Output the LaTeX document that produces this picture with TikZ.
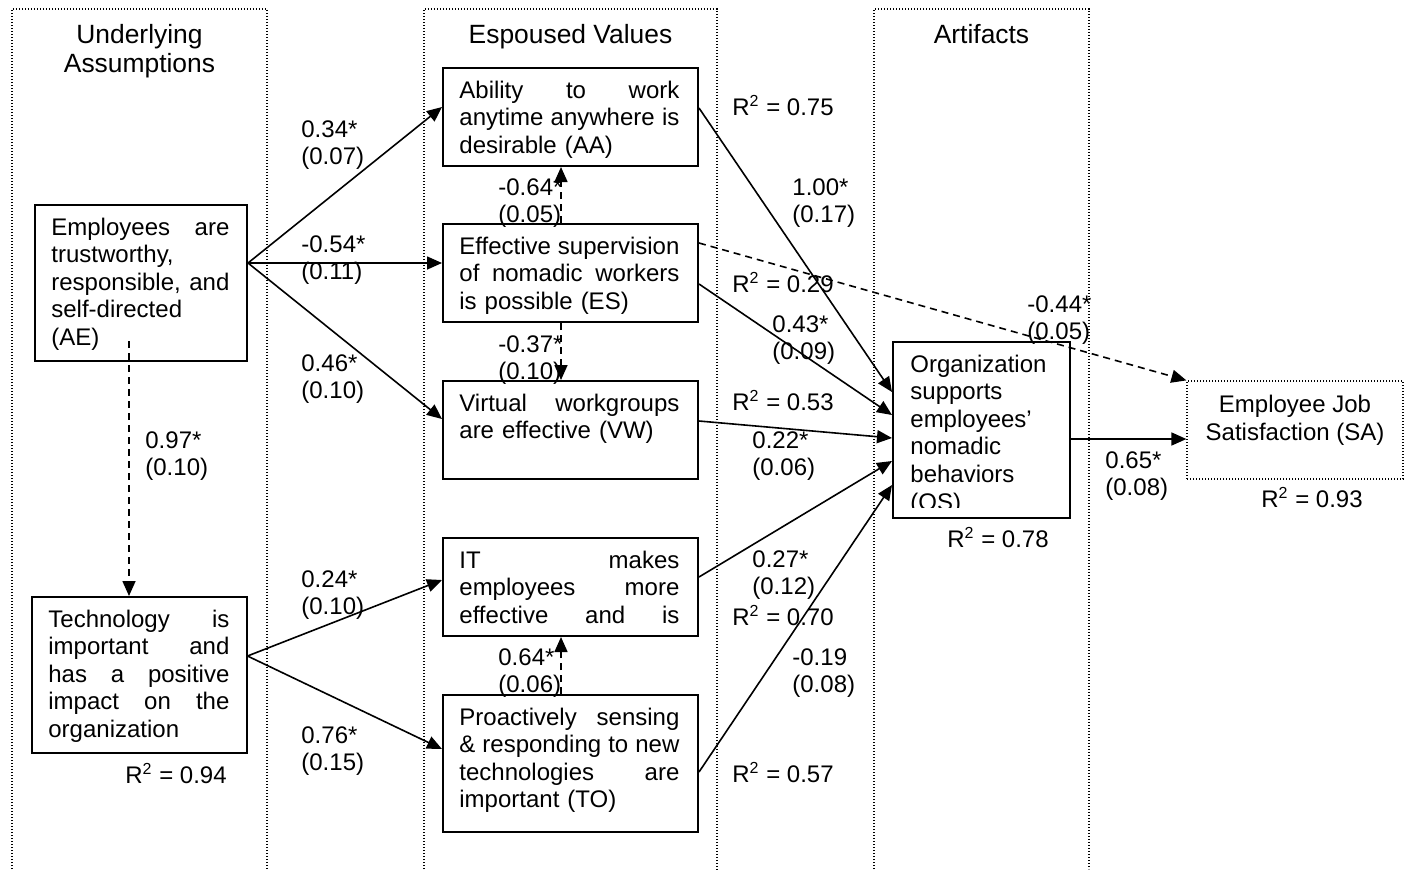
\documentclass[tikz,border=0pt]{standalone}
\usepackage{fontspec}
\setmainfont{Liberation Sans}
\usetikzlibrary{arrows.meta,calc}
\newcommand{\txtfont}{\fontsize{12}{13.8}\selectfont}
\newlength{\bw}
\newcommand{\jl}[1]{\leavevmode\hbox to\bw{\spaceskip=\fontdimen2\font plus 1fil\relax #1}}
\newcommand{\rsq}[1]{R\textsuperscript{2} = #1}

\begin{document}
\begin{tikzpicture}[x=0.5pt,y=-0.5pt,
  >={Triangle[length=7.5pt,width=6.5pt]},
  font=\txtfont,
  frame/.style={line width=0.6pt,dash pattern=on 0.6pt off 0.9pt},
  box/.style={draw,line width=1pt,inner sep=0pt,
              minimum width=127.5pt,minimum height=49pt},
  inbox/.style={anchor=base west,inner sep=0pt,align=left,text width=#1,
                execute at begin node={\setlength{\bw}{#1}}},
  rlab/.style={anchor=base west,inner sep=0pt},
  coef/.style={rlab,align=left,yshift=-13.8pt},
  head/.style={anchor=base,inner sep=0pt,align=center,
               font=\fontsize{13.2}{14.7}\selectfont},
  link/.style={line width=0.8pt,->},
  dlink/.style={link,dash pattern=on 3.5pt off 2.5pt}]
\useasboundingbox (0,0) rectangle (1408,869);
% the three levels
\draw[frame] (12,869) |- (267,9) -- (267,869);
\draw[frame] (424,869) |- (717,9) -- (717,869);
\draw[frame] (874,869) |- (1089,9) -- (1089,869);
\node[head,yshift=-14.7pt] (hUA) at (139.5,43) {Underlying\\Assumptions};
\node[head] (hEV) at (570.5,43) {Espoused Values};
\node[head] (hAR) at (981.5,43) {Artifacts};

% boxes
\node[box,minimum width=106pt,minimum height=78pt] (AE) at (141,283) {};
\node[box,minimum width=107.5pt,minimum height=78pt] (TI) at (139,675) {};
\node[box] (AA) at (570.5,117) {};
\node[box] (ES) at (570.5,273) {};
\node[box] (VW) at (570.5,430) {};
\node[box] (IT) at (570.5,587) {};
\node[box,minimum height=68.5pt] (TO) at (570.5,763.5) {};
\node[box,minimum width=88.5pt,minimum height=88pt] (OS) at (981.5,430) {};
\node[box,frame,minimum width=108pt] (SA) at (1295,430) {};

\node[inbox=89pt] (AEt) at ($(AE.north west)+(17,31)$)
  {\jl{Employees are}\\trustworthy,\\\jl{responsible, and}\\self-directed\\(AE)};
\node[inbox=90.5pt] (TIt) at ($(TI.north west)+(17.5,31)$)
  {\jl{Technology is}\\\jl{important and}\\\jl{has a positive}\\\jl{impact on the}\\organization};
\node[inbox=110pt] (AAt) at ($(AA.north west)+(17,31)$)
  {\jl{Ability to work}\\\jl{anytime anywhere is}\\desirable (AA)};
\node[inbox=110pt] (ESt) at ($(ES.north west)+(17,31)$)
  {\jl{Effective supervision}\\\jl{of nomadic workers}\\is possible (ES)};
\node[inbox=110pt] (VWt) at ($(VW.north west)+(17,31)$)
  {\jl{Virtual workgroups}\\are effective (VW)};
\node[inbox=110pt] (ITt) at ($(IT.north west)+(17,31)$)
  {\jl{IT makes}\\\jl{employees more}\\\jl{effective and is}};
\node[inbox=110pt] (TOt) at ($(TO.north west)+(17,31)$)
  {\jl{Proactively sensing}\\\jl{\& responding to new}\\\jl{technologies are}\\important (TO)};
\begin{scope}
\clip (OS.north west) rectangle ($(OS.south east)+(0,-12)$);
\node[inbox=71pt] (OSt) at ($(OS.north west)+(18,31)$)
  {Organization\\supports\\employees’\\nomadic\\behaviors\\(OS)};
\end{scope}
\node[head,font=\txtfont,yshift=-13.8pt] (SAt) at ($(SA.north)+(0,32)$) {Employee Job\\Satisfaction (SA)};

% R squared
\node[rlab] (rTI) at (125,783) {\rsq{0.94}};
\node[rlab] (rAA) at (732,115) {\rsq{0.75}};
\node[rlab] (rES) at (732,292) {\rsq{0.29}};
\node[rlab] (rVW) at (732,410) {\rsq{0.53}};
\node[rlab] (rIT) at (732,625) {\rsq{0.70}};
\node[rlab] (rTO) at (732,782) {\rsq{0.57}};
\node[rlab] (rOS) at (947,547) {\rsq{0.78}};
\node[rlab] (rSA) at (1261,507) {\rsq{0.93}};

% paths
\draw[link] (AE.east |- 0,263) -- (AA.west |- 0,107);
\draw[link] (AE.east |- 0,263) -- (ES.west |- 0,263);
\draw[link] (AE.east |- 0,263) -- (VW.west |- 0,419);
\coordinate (aeIn) at (129,341);
\draw[dlink] (aeIn) -- (aeIn |- TI.north);
\draw[link] (TI.east |- 0,656) -- (IT.west |- 0,580);
\draw[link] (TI.east |- 0,656) -- (TO.west |- 0,749);
\draw[dlink] (ES.north -| 561,0) -- (AA.south -| 561,0);
\draw[dlink] (ES.south -| 561,0) -- (VW.north -| 561,0);
\draw[dlink] (TO.north -| 561,0) -- (IT.south -| 561,0);
\draw[link] (AA.east |- 0,108) -- (OS.west |- 0,392);
\draw[link] (ES.east |- 0,284) -- (OS.west |- 0,415);
\draw[dlink] (ES.east |- 0,243) -- (SA.north west);
\draw[link] (VW.east |- 0,421) -- (OS.west |- 0,438);
\draw[link] (IT.east |- 0,577) -- (OS.west |- 0,461);
\draw[link] (TO.east |- 0,772) -- (OS.west |- 0,485);
\draw[link] (OS.east |- 0,439) -- (SA.west |- 0,439);

\node[coef] (cAA) at (301,137) {0.34*\\(0.07)};
\node[coef] (cES) at (301,252) {-0.54*\\(0.11)};
\node[coef] (cVW) at (301,371) {0.46*\\(0.10)};
\node[coef] (cTI) at (145,448) {0.97*\\(0.10)};
\node[coef] (cIT) at (301,587) {0.24*\\(0.10)};
\node[coef] (cTO) at (301,743) {0.76*\\(0.15)};
\node[coef] (cESAA) at (498,195) {-0.64*\\(0.05)};
\node[coef] (cESVW) at (498,352) {-0.37*\\(0.10)};
\node[coef] (cTOIT) at (498,665) {0.64*\\(0.06)};
\node[coef] (cAAOS) at (792,195) {1.00*\\(0.17)};
\node[coef] (cESOS) at (772,332) {0.43*\\(0.09)};
\node[coef] (cVWOS) at (752,448) {0.22*\\(0.06)};
\node[coef] (cITOS) at (752,567) {0.27*\\(0.12)};
\node[coef] (cTOOS) at (792,665) {-0.19\\(0.08)};
\node[coef] (cESSA) at (1027,312) {-0.44*\\(0.05)};
\node[coef] (cOSSA) at (1105,468) {0.65*\\(0.08)};
\end{tikzpicture}
\end{document}
